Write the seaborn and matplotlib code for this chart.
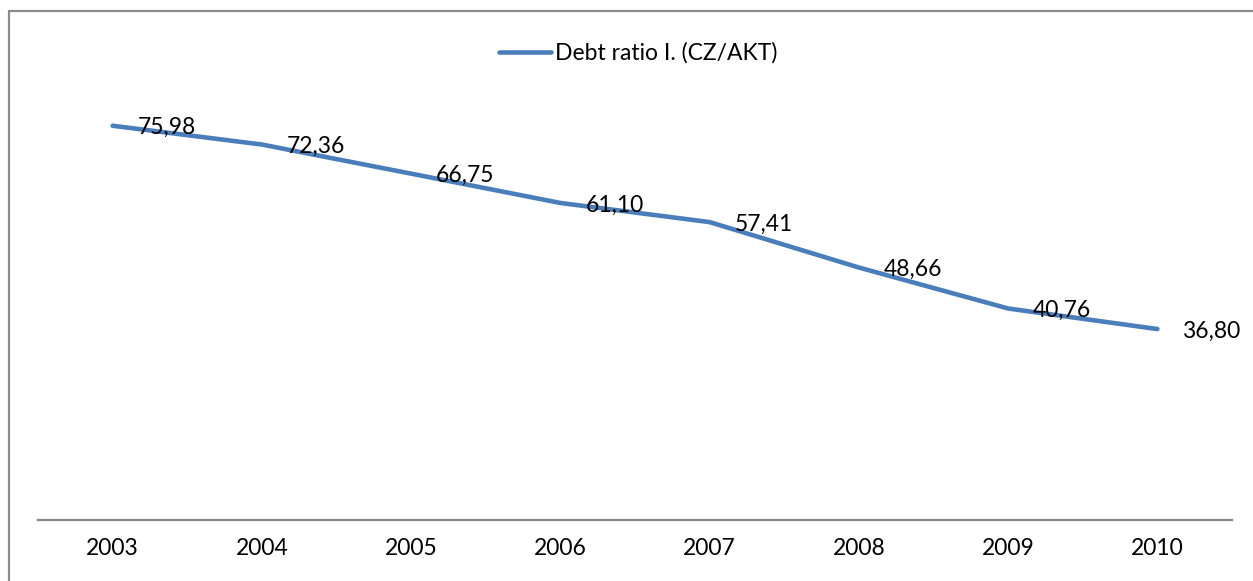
import matplotlib
matplotlib.use("Agg")
import matplotlib.pyplot as plt
import seaborn as sns
import pandas as pd
from matplotlib.lines import Line2D

years = ["2003", "2004", "2005", "2006", "2007", "2008", "2009", "2010"]
debt_ratio = [75.98, 72.36, 66.75, 61.10, 57.41, 48.66, 40.76, 36.80]
series_name = "Debt ratio I. (CZ/AKT)"

sns.set_theme(style="white")
plt.rcParams["font.family"] = ["Lato", "DejaVu Sans"]

W, H = 1253, 581
fig = plt.figure(figsize=(W / 100, H / 100), dpi=100)
ax = fig.add_axes([38 / W, 1 - 520 / H, (1232 - 38) / W, (520 - 53) / H])

df = pd.DataFrame({"year": years, "value": debt_ratio})
color = "#4a7ebb"
sns.lineplot(data=df, x="year", y="value", ax=ax, color=color, linewidth=3.3,
             solid_capstyle="round", label=series_name, legend=False)

ax.set_xlim(-0.5, len(years) - 0.5)
ax.set_ylim(0, 90)
ax.set_yticks([])
ax.set_xlabel("")
ax.set_ylabel("")
for s in ["top", "right", "left"]:
    ax.spines[s].set_visible(False)
ax.spines["bottom"].set_color("#868686")
ax.spines["bottom"].set_linewidth(1.6)
ax.tick_params(axis="x", length=0, labelsize=16.5, pad=13, colors="black")

for i, v in enumerate(debt_ratio):
    ax.annotate(f"{v:.2f}".replace(".", ","), (i, v), xytext=(18, -1.5),
                textcoords="offset points", ha="left", va="center",
                fontsize=16.5, color="black")

handle = Line2D([], [], color=color, linewidth=3.3, solid_capstyle="round")
fig.legend([handle], [series_name], loc="center", bbox_to_anchor=(638 / W, 1 - 53 / H),
           frameon=False, fontsize=16.5, handlelength=2.3, handletextpad=0.15,
           labelcolor="black")

# outer chart frame (left and top edges visible)
fig.add_artist(Line2D([9 / W, 9 / W], [0, 1 - 11 / H], transform=fig.transFigure,
                      color="#8c8c8c", linewidth=1.6))
fig.add_artist(Line2D([9 / W, 1], [1 - 11 / H, 1 - 11 / H], transform=fig.transFigure,
                      color="#8c8c8c", linewidth=1.6))

fig.savefig("out.png", dpi=100)
